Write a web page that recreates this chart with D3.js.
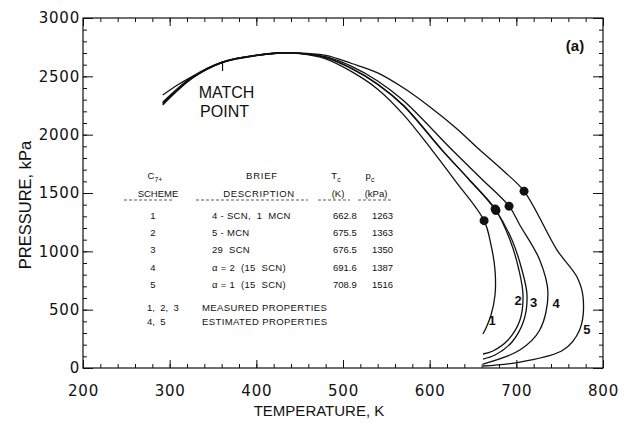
<!DOCTYPE html>
<html>
<head>
<meta charset="utf-8">
<script src="https://cdn.jsdelivr.net/npm/d3@7"></script>
<style>
body { margin: 0; background: #fff; }
text { font-family: "Liberation Sans", Arial, sans-serif; fill: #111; }
</style>
</head>
<body>
<div id="canvas"></div>
<script>
"use strict";

let svgWidth = 629;
let svgHeight = 428;
let margin = { left: 83, right: 26, top: 18, bottom: 60 };

// Table values (C7+ characterization schemes)
let schemes = ["1", "2", "3", "4", "5"];
let descriptions = ["4 - SCN,  1  MCN", "5 - MCN", "29  SCN", "\u03b1 = 2  (15  SCN)", "\u03b1 = 1  (15  SCN)"];
let critT = [662.8, 675.5, 676.5, 691.6, 708.9];
let critP = [1263, 1363, 1350, 1387, 1516];

// Phase envelopes, [T (K), P (kPa)]
let envelope1 = [[292, 2340], [310, 2430], [327, 2502], [345, 2570], [361, 2622], [385, 2665], [404, 2684], [427, 2700], [450, 2695], [480, 2650], [510, 2540], [540, 2390], [570, 2170], [602.7, 1868], [630, 1600], [662.8, 1263], [670.8, 1054], [675.4, 840], [675.4, 626], [670.8, 454], [665, 343], [661.5, 291]];
let envelope2 = [[292, 2255], [327, 2488], [361, 2618], [404, 2682], [427, 2700], [450, 2696], [480, 2660], [510, 2565], [540, 2430], [570, 2245], [614, 1868], [645, 1620], [675.5, 1363], [692.7, 1097], [703, 840], [707.7, 626], [704.2, 411], [690.4, 240], [673, 146], [661.5, 120]];
let envelope3 = [[292, 2262], [327, 2492], [361, 2620], [404, 2683], [427, 2700], [450, 2696], [480, 2662], [510, 2568], [540, 2435], [570, 2250], [614.5, 1868], [646, 1610], [676.5, 1350], [695, 1097], [706.5, 840], [712.3, 626], [708.8, 411], [695, 223], [675.4, 111], [661.5, 77]];
let envelope4 = [[292, 2270], [327, 2496], [361, 2622], [404, 2684], [427, 2700], [450, 2697], [480, 2668], [510, 2585], [540, 2460], [570, 2290], [626, 1868], [660, 1620], [691.6, 1387], [704, 1226], [727, 926], [736.5, 643], [727, 326], [704, 154], [661.5, 34]];
let envelope5 = [[292, 2278], [327, 2500], [361, 2624], [404, 2686], [427, 2702], [450, 2700], [480, 2680], [510, 2610], [540, 2530], [570, 2400], [600, 2240], [630, 2060], [658, 1868], [685, 1690], [708.9, 1516], [747, 1011], [770, 780], [777, 609], [773, 326], [754, 154], [704, 51], [661.5, 17]];
let envelopes = [envelope1, envelope2, envelope3, envelope4, envelope5];

// where each curve number sits, [T, P]
let curveLabelAt = [[672, 394], [702, 566], [720, 549], [746, 540], [781.5, 317]];

let matchPoint = [361, 2622];

let xTicks = [200, 300, 400, 500, 600, 700, 800];
let yTicks = [0, 500, 1000, 1500, 2000, 2500, 3000];

let svg = d3.select("#canvas")
    .append("svg")
    .attr("width", svgWidth)
    .attr("height", svgHeight);

let x = d3.scaleLinear()
    .domain([200, 800])
    .range([margin.left, svgWidth - margin.right]);

let y = d3.scaleLinear()
    .domain([0, 3000])
    .range([svgHeight - margin.bottom, margin.top]);

// Frame with inward ticks on all four sides
let xMinor = d3.range(200, 801, 20);
let yMinor = d3.range(0, 3001, 100);

function styleAxis(g) {
    g.select(".domain").remove();
    g.selectAll("line").attr("stroke", "#111");
}

svg.append("g").attr("transform", `translate(0,${y(0)})`)
    .call(d3.axisBottom(x).tickValues(xMinor).tickSize(-4).tickSizeOuter(0).tickFormat(""))
    .call(styleAxis);
svg.append("g").attr("transform", `translate(0,${y(3000)})`)
    .call(d3.axisTop(x).tickValues(xMinor).tickSize(-4).tickSizeOuter(0).tickFormat(""))
    .call(styleAxis);
svg.append("g").attr("transform", `translate(${x(200)},0)`)
    .call(d3.axisLeft(y).tickValues(yMinor).tickSize(-4).tickSizeOuter(0).tickFormat(""))
    .call(styleAxis);
svg.append("g").attr("transform", `translate(${x(800)},0)`)
    .call(d3.axisRight(y).tickValues(yMinor).tickSize(-4).tickSizeOuter(0).tickFormat(""))
    .call(styleAxis);

let xAxis = svg.append("g").attr("transform", `translate(0,${y(0)})`)
    .call(d3.axisBottom(x).tickValues(xTicks).tickSize(-8).tickSizeOuter(0).tickPadding(17).tickFormat(d3.format("d")))
    .call(styleAxis);
let yAxis = svg.append("g").attr("transform", `translate(${x(200)},0)`)
    .call(d3.axisLeft(y).tickValues(yTicks).tickSize(-10).tickSizeOuter(0).tickPadding(3).tickFormat(d3.format("d")))
    .call(styleAxis);
svg.append("g").attr("transform", `translate(0,${y(3000)})`)
    .call(d3.axisTop(x).tickValues(xTicks).tickSize(-8).tickSizeOuter(0).tickFormat(""))
    .call(styleAxis);
svg.append("g").attr("transform", `translate(${x(800)},0)`)
    .call(d3.axisRight(y).tickValues(yTicks).tickSize(-10).tickSizeOuter(0).tickFormat(""))
    .call(styleAxis);

[xAxis, yAxis].forEach(g => g.selectAll("text")
    .style("font-family", "'DejaVu Sans', sans-serif")
    .style("font-size", "15px")
    .style("letter-spacing", "0.8px")
    .attr("fill", "#111"));

svg.append("rect")
    .attr("x", x(200))
    .attr("y", y(3000))
    .attr("width", x(800) - x(200))
    .attr("height", y(0) - y(3000))
    .attr("fill", "none")
    .attr("stroke", "#111")
    .attr("stroke-width", 1.2);

// Axis titles
svg.append("text")
    .attr("x", (x(200) + x(800)) / 2 - 24)
    .attr("y", svgHeight - 12)
    .attr("text-anchor", "middle")
    .style("font-size", "15px")
    .text("TEMPERATURE, K");

svg.append("text")
    .attr("transform", `translate(31,${(y(0) + y(3000)) / 2 + 12}) rotate(-90)`)
    .attr("text-anchor", "middle")
    .style("font-size", "16.5px")
    .text("PRESSURE, kPa");

// Envelopes
let line = d3.line()
    .x(d => x(d[0]))
    .y(d => y(d[1]))
    .curve(d3.curveCatmullRom.alpha(0.5));

svg.selectAll("path.envelope")
    .data(envelopes)
    .join("path")
    .attr("class", "envelope")
    .attr("d", line)
    .attr("fill", "none")
    .attr("stroke", "#111")
    .attr("stroke-width", 1.3);

// Critical points
svg.selectAll("circle.crit")
    .data(critT)
    .join("circle")
    .attr("class", "crit")
    .attr("cx", d => x(d))
    .attr("cy", (d, i) => y(critP[i]))
    .attr("r", 4.5)
    .attr("fill", "#111");

// Curve numbers
svg.selectAll("text.curvelabel")
    .data(curveLabelAt)
    .join("text")
    .attr("class", "curvelabel")
    .attr("x", d => x(d[0]))
    .attr("y", d => y(d[1]))
    .attr("text-anchor", "middle")
    .attr("dominant-baseline", "middle")
    .style("font-size", "13px")
    .style("font-weight", "bold")
    .text((d, i) => schemes[i]);

// Match point
svg.append("line")
    .attr("x1", x(matchPoint[0]))
    .attr("x2", x(matchPoint[0]))
    .attr("y1", y(matchPoint[1]))
    .attr("y2", y(matchPoint[1]) + 9)
    .attr("stroke", "#111")
    .attr("stroke-width", 1.2);

svg.append("text")
    .attr("x", x(matchPoint[0]) + 4)
    .attr("y", y(matchPoint[1]) + 36)
    .attr("text-anchor", "middle")
    .style("font-size", "16px")
    .text("MATCH");

svg.append("text")
    .attr("x", x(matchPoint[0]) + 2)
    .attr("y", y(matchPoint[1]) + 55)
    .attr("text-anchor", "middle")
    .style("font-size", "16px")
    .text("POINT");

svg.append("text")
    .attr("x", 575)
    .attr("y", 51)
    .attr("text-anchor", "middle")
    .style("font-size", "15px")
    .style("font-weight", "bold")
    .text("(a)");

// Table
let table = svg.append("g").style("font-size", "9.5px");

let c7 = table.append("text").attr("x", 155).attr("y", 179).attr("text-anchor", "middle");
c7.append("tspan").text("C");
c7.append("tspan").attr("dy", 2.5).style("font-size", "7px").text("7+");

table.append("text").attr("x", 158).attr("y", 197).attr("text-anchor", "middle").text("SCHEME");
table.append("text").attr("x", 262).attr("y", 179).attr("text-anchor", "middle").style("letter-spacing", "0.8px").text("BRIEF");
table.append("text").attr("x", 259).attr("y", 197).attr("text-anchor", "middle").style("letter-spacing", "0.6px").text("DESCRIPTION");

let tcHead = table.append("text").attr("x", 336).attr("y", 179).attr("text-anchor", "middle");
tcHead.append("tspan").text("T");
tcHead.append("tspan").attr("dy", 2.5).style("font-size", "7px").text("c");
table.append("text").attr("x", 338).attr("y", 197).attr("text-anchor", "middle").text("(K)");

let pcHead = table.append("text").attr("x", 370).attr("y", 179).attr("text-anchor", "middle");
pcHead.append("tspan").text("p");
pcHead.append("tspan").attr("dy", 2.5).style("font-size", "7px").text("c");
table.append("text").attr("x", 376).attr("y", 197).attr("text-anchor", "middle").text("(kPa)");

[[124, 172], [196, 308], [318, 350], [358, 392]].forEach(s => {
    table.append("line")
        .attr("x1", s[0]).attr("x2", s[1])
        .attr("y1", 200).attr("y2", 200)
        .attr("stroke", "#333")
        .attr("stroke-width", 0.8)
        .attr("stroke-dasharray", "3,2");
});

schemes.forEach((s, i) => {
    let yy = 219 + i * 17.2;
    table.append("text").attr("x", 153).attr("y", yy).attr("text-anchor", "middle").text(s);
    table.append("text").attr("x", 212).attr("y", yy).style("white-space", "pre").style("letter-spacing", "0.3px").text(descriptions[i]);
    table.append("text").attr("x", 333).attr("y", yy).text(critT[i].toFixed(1));
    table.append("text").attr("x", 372).attr("y", yy).text(critP[i]);
});

table.append("text").attr("x", 147).attr("y", 311).style("white-space", "pre").text("1,  2,  3");
table.append("text").attr("x", 202).attr("y", 311).style("letter-spacing", "0.4px").text("MEASURED PROPERTIES");
table.append("text").attr("x", 147).attr("y", 325).style("white-space", "pre").text("4,  5");
table.append("text").attr("x", 202).attr("y", 325).style("letter-spacing", "0.4px").text("ESTIMATED PROPERTIES");
</script>
</body>
</html>
